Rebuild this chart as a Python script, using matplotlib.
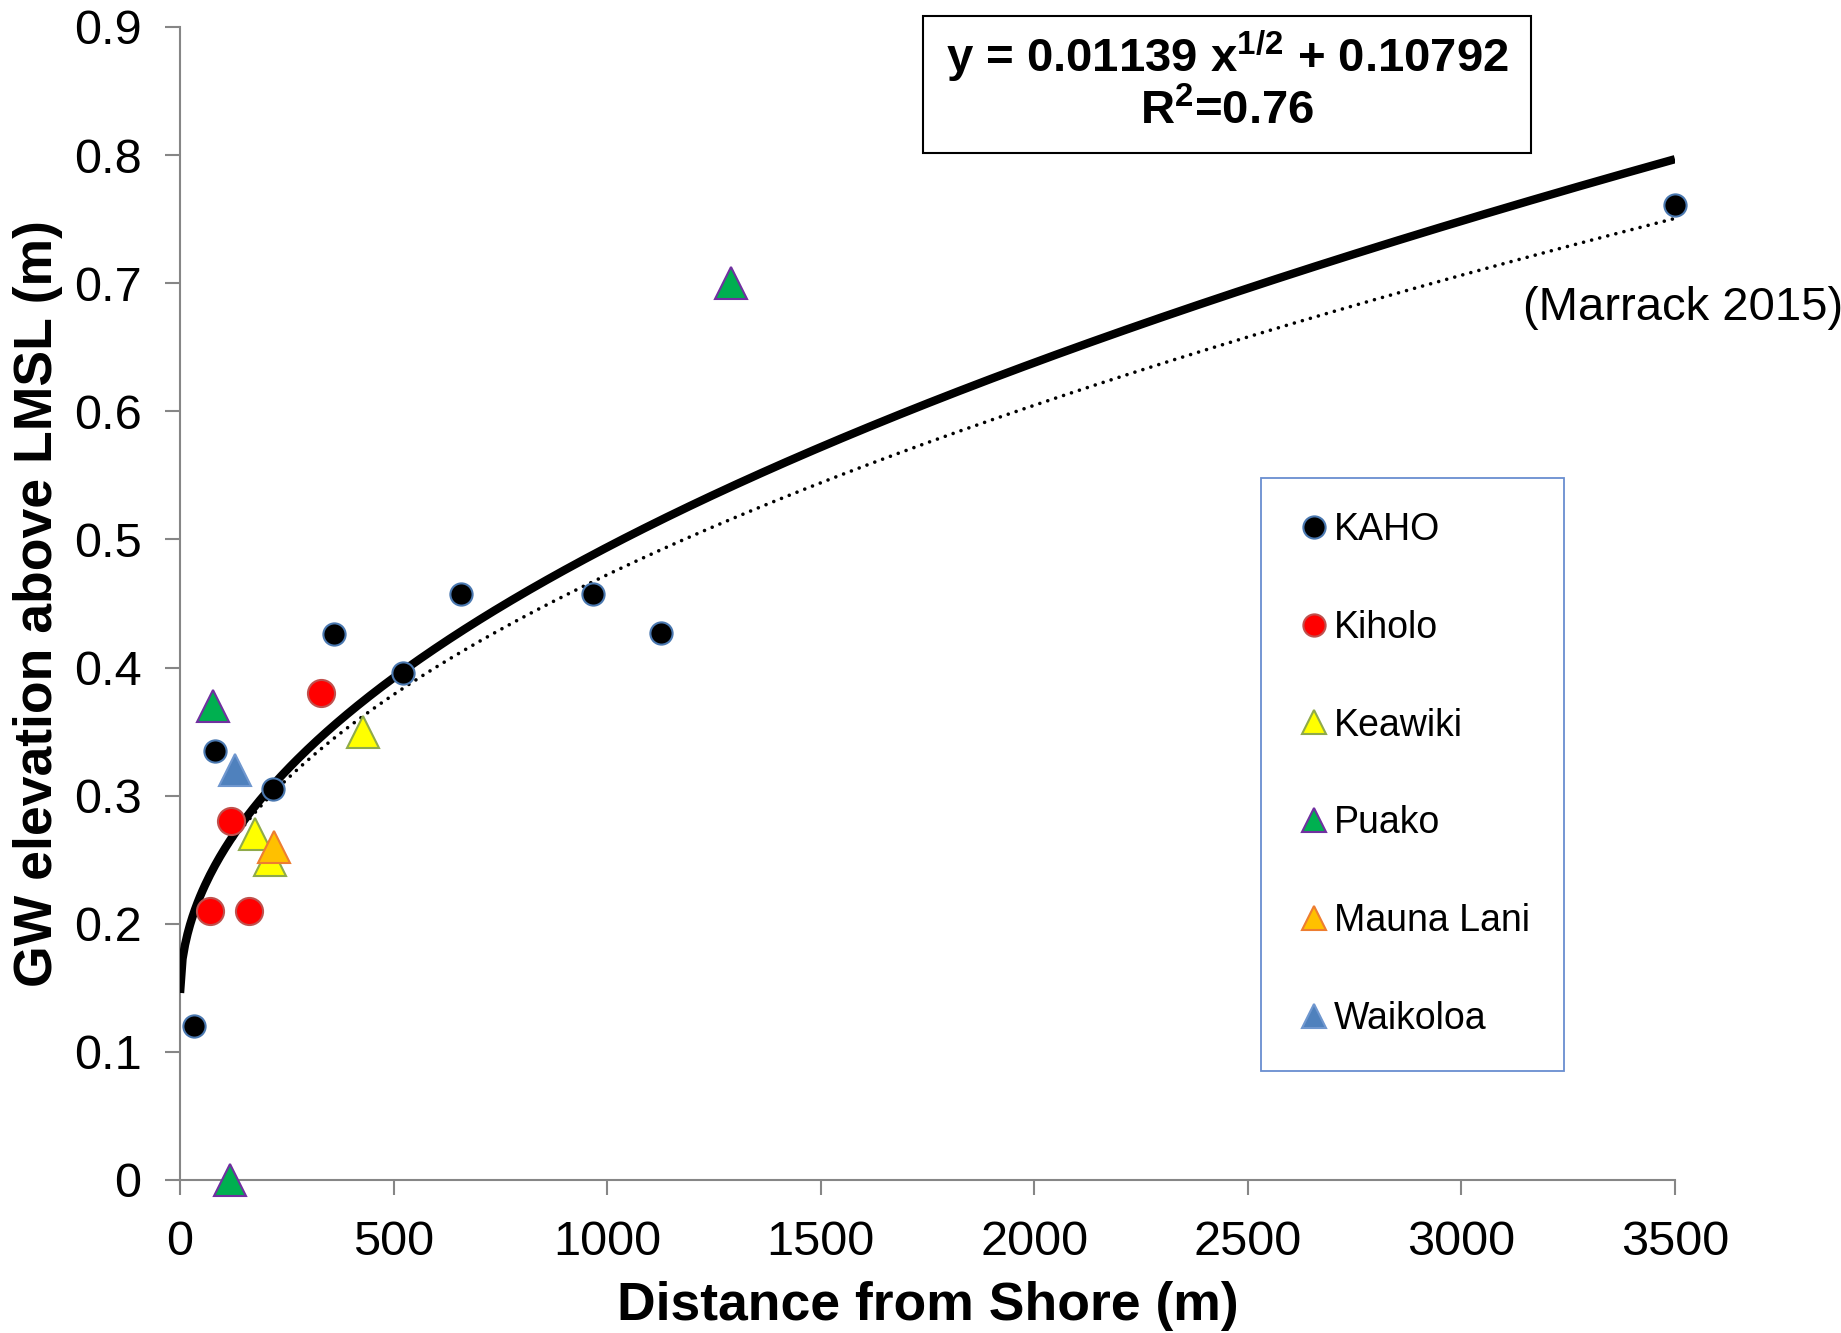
import numpy as np
import matplotlib.pyplot as plt
from matplotlib.lines import Line2D
from matplotlib.patches import Rectangle

plt.rcParams['font.family'] = ['Liberation Sans', 'DejaVu Sans']
plt.rcParams['mathtext.fontset'] = 'custom'
plt.rcParams['mathtext.rm'] = 'Liberation Sans'
plt.rcParams['mathtext.bf'] = 'Liberation Sans:bold'

# sites: distance from shore (m), GW elevation above LMSL (m)
kaho_x = [32, 82, 218, 361, 521, 657, 967, 1126, 3500]
kaho_y = [0.12, 0.335, 0.305, 0.426, 0.396, 0.457, 0.457, 0.427, 0.761]
kiholo_x = [69, 161, 120, 329]
kiholo_y = [0.21, 0.21, 0.28, 0.38]
keawiki_x = [176, 210, 429]
keawiki_y = [0.27, 0.25, 0.35]
puako_x = [78, 118, 1291]
puako_y = [0.37, 0.0, 0.70]
maunalani_x = [220]
maunalani_y = [0.26]
waikoloa_x = [129]
waikoloa_y = [0.32]

# trend curves, y = a*sqrt(x) + b
fit_a, fit_b = 0.0110, 0.146
marrack_a, marrack_b = 0.0101, 0.153

xticks = [0, 500, 1000, 1500, 2000, 2500, 3000, 3500]
yticks = [0, 0.1, 0.2, 0.3, 0.4, 0.5, 0.6, 0.7, 0.8, 0.9]
ytick_labels = ['0', '0.1', '0.2', '0.3', '0.4', '0.5', '0.6', '0.7', '0.8', '0.9']

fig = plt.figure(figsize=(18.41, 13.33), dpi=100)
ax = fig.add_axes([0.0978, 0.1148, 0.8120, 0.8650])

xc = np.linspace(0, 3500, 600)
ax.plot(xc, marrack_a * np.sqrt(xc) + marrack_b, color='black', lw=2.6,
        linestyle=(0, (0.01, 2.3)), dash_capstyle='round', zorder=2)
ax.plot(xc, fit_a * np.sqrt(xc) + fit_b, color='black', lw=6.0,
        solid_capstyle='butt', zorder=3)

series = [
    ('KAHO', kaho_x, kaho_y, 'o', 'black', '#4a78b0', 16),
    ('Kiholo', kiholo_x, kiholo_y, 'o', '#ff0000', '#c0504d', 19.5),
    ('Keawiki', keawiki_x, keawiki_y, '^', '#ffff00', '#8faa4a', 23.5),
    ('Puako', puako_x, puako_y, '^', '#00b050', '#7030a0', 23.5),
    ('Mauna Lani', maunalani_x, maunalani_y, '^', '#ffc000', '#ed7d31', 23.5),
    ('Waikoloa', waikoloa_x, waikoloa_y, '^', '#4f81bd', '#6f97cf', 23.5),
]
handles = []
for name, xs, ys, m, fc, ec, ms in series:
    ax.plot(xs, ys, linestyle='none', marker=m, ms=ms, mfc=fc, mec=ec,
            mew=1.5, zorder=5, clip_on=False)
    handles.append(Line2D([], [], linestyle='none', marker=m, ms=16 if m == 'o' else 17,
                          mfc=fc, mec=ec, mew=1.5, label=name))

ax.set_xlim(0, 3500)
ax.set_ylim(0, 0.9)
ax.set_xticks(xticks)
ax.set_yticks(yticks)
ax.set_yticklabels(ytick_labels)
for s in ['top', 'right']:
    ax.spines[s].set_visible(False)
for s in ['left', 'bottom']:
    ax.spines[s].set_color('#868686')
    ax.spines[s].set_linewidth(1.5)
ax.tick_params(direction='out', length=10.8, width=1.5, color='#868686',
               labelsize=35)
ax.tick_params(axis='y', pad=17)
ax.tick_params(axis='x', pad=18)

ax.set_xlabel('Distance from Shore (m)', fontsize=38.5, fontweight='bold')
ax.set_ylabel('GW elevation above LMSL (m)', fontsize=38.5, fontweight='bold')
ax.xaxis.label.set_verticalalignment('center')
ax.yaxis.label.set_verticalalignment('center')
ax.xaxis.set_label_coords(0.5, -0.109)
ax.yaxis.set_label_coords(-0.095, 0.5)

leg = ax.legend(handles=handles, loc='upper left', bbox_to_anchor=(0.685, 0.6414),
                bbox_transform=fig.transFigure, borderaxespad=0, fontsize=27,
                frameon=True, fancybox=False, handlelength=1.0, handletextpad=0.05,
                borderpad=0.9, labelspacing=1.65)
leg.get_frame().set_edgecolor('#4472c4')
leg.get_frame().set_linewidth(1.3)

# equation box
fig.patches.append(Rectangle((923 / 1841, 1 - 153 / 1333), 608 / 1841, 137 / 1333,
                             transform=fig.transFigure, facecolor='white',
                             edgecolor='black', lw=1.5))
fig.text(0.6665, 0.958, r'y = 0.01139 x$^{\mathbf{1/2}}$ + 0.10792', fontsize=34,
         fontweight='bold', ha='center', va='center')
fig.text(0.6665, 0.916, r'R$^{\mathbf{2}}$=0.76', fontsize=34,
         fontweight='bold', ha='center', va='center')

fig.text(0.8273, 0.769, '(Marrack 2015)', fontsize=34, ha='left', va='center')

fig.savefig('out.png', dpi=100)
